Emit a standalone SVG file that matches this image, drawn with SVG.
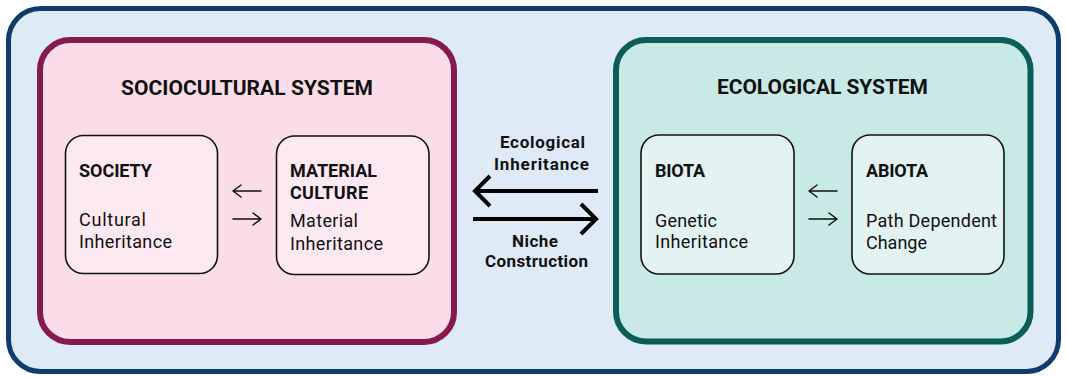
<svg xmlns="http://www.w3.org/2000/svg" width="1066" height="377" viewBox="0 0 1066 377">
  <style>
    text { font-family: Roboto, "Liberation Sans", sans-serif; fill: #111; }
    .title { font-size: 21px; font-weight: 700; }
    .head { font-size: 18px; font-weight: 700; }
    .body { font-size: 18px; font-weight: 400; }
    .mid { font-size: 17px; font-weight: 700; }
    .node { stroke: #111; stroke-width: 1.6; }
    .thin { fill: none; stroke: #111; stroke-width: 1.5; stroke-linecap: round; stroke-linejoin: round; }
    .thick { fill: none; stroke: #000; stroke-width: 4; stroke-linejoin: miter; }
  </style>

  <!-- outer frame -->
  <rect id="frame" x="8.5" y="8.5" width="1050" height="363" rx="32" fill="#deebf7" stroke="#0e3c6e" stroke-width="5"/>

  <!-- sociocultural system -->
  <g id="sociocultural-system">
    <rect x="40" y="40" width="414" height="302" rx="30" fill="#fbdde9" stroke="#861a4c" stroke-width="6"/>
    <text class="title" x="121" y="95" textLength="252">SOCIOCULTURAL SYSTEM</text>
  </g>

  <g id="society">
    <rect class="node" x="65.5" y="135.5" width="152" height="138" rx="18" fill="#fde9f1"/>
    <text class="head" x="79" y="177" textLength="73">SOCIETY</text>
    <text class="body" x="79" y="226" textLength="67">Cultural</text>
    <text class="body" x="79" y="248" textLength="93">Inheritance</text>
  </g>

  <g id="material-culture">
    <rect class="node" x="276.5" y="136" width="152.5" height="138.5" rx="18" fill="#fde9f1"/>
    <text class="head" x="290" y="177" textLength="87">MATERIAL</text>
    <text class="head" x="290" y="199" textLength="78">CULTURE</text>
    <text class="body" x="290" y="227" textLength="68">Material</text>
    <text class="body" x="290" y="250" textLength="93">Inheritance</text>
  </g>

  <!-- ecological system -->
  <g id="ecological-system">
    <rect x="616" y="40" width="414.5" height="301.5" rx="30" fill="#c9e9e6" stroke="#0b5e58" stroke-width="6"/>
    <text class="title" x="717" y="94" textLength="211">ECOLOGICAL SYSTEM</text>
  </g>

  <g id="biota">
    <rect class="node" x="641" y="135" width="153" height="139" rx="18" fill="#e3f3f1"/>
    <text class="head" x="655" y="177" textLength="50">BIOTA</text>
    <text class="body" x="655" y="227" textLength="62">Genetic</text>
    <text class="body" x="655" y="248" textLength="93">Inheritance</text>
  </g>

  <g id="abiota">
    <rect class="node" x="852" y="135" width="152" height="139" rx="18" fill="#e3f3f1"/>
    <text class="head" x="866" y="177" textLength="62">ABIOTA</text>
    <text class="body" x="866" y="227" textLength="131">Path Dependent</text>
    <text class="body" x="866" y="249" textLength="61">Change</text>
  </g>

  <!-- connectors -->
  <g id="connectors">
    <!-- society <-> material culture -->
    <path class="thin" d="M261 191 H233 M241 185 L233 191 L241 197"/>
    <path class="thin" d="M233 219 H261 M253 213 L261 219 L253 225"/>
    <!-- biota <-> abiota -->
    <path class="thin" d="M837 191 H809 M817 185 L809 191 L817 197"/>
    <path class="thin" d="M809 219 H837 M829 213 L837 219 L829 225"/>
    <!-- ecological inheritance / niche construction -->
    <path class="thick" d="M598 191 H476 M490 176 L475 191 L490 206"/>
    <path class="thick" d="M473 219 H595 M581 204 L596 219 L581 234"/>
    <text class="mid" x="500" y="148" textLength="85">Ecological</text>
    <text class="mid" x="494" y="170" textLength="95">Inheritance</text>
    <text class="mid" x="512" y="247" textLength="46">Niche</text>
    <text class="mid" x="485" y="267" textLength="103">Construction</text>
  </g>
</svg>
